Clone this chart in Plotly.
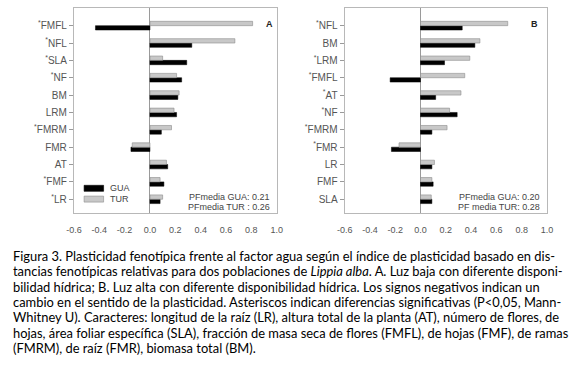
import plotly.graph_objects as go

# ---------------- data ----------------
cats_A = ["FMFL", "NFL", "SLA", "NF", "BM", "LRM", "FMRM", "FMR", "AT", "FMF", "LR"]
sig_A = [True, True, True, True, False, False, True, False, False, True, True]
gua_A = [-0.43, 0.33, 0.29, 0.25, 0.22, 0.21, 0.09, -0.15, 0.14, 0.11, 0.08]
tur_A = [0.81, 0.67, 0.10, 0.21, 0.23, 0.19, 0.17, -0.14, 0.13, 0.08, 0.10]

cats_B = ["NFL", "BM", "LRM", "FMFL", "AT", "NF", "FMRM", "FMR", "LR", "FMF", "SLA"]
sig_B = [True, False, True, True, True, True, True, True, False, False, False]
gua_B = [0.33, 0.43, 0.19, -0.24, 0.12, 0.29, 0.09, -0.23, 0.09, 0.10, 0.09]
tur_B = [0.69, 0.47, 0.39, 0.35, 0.32, 0.23, 0.21, -0.17, 0.11, 0.09, 0.085]

series_names = ["GUA", "TUR"]
x_ticks = [-0.6, -0.4, -0.2, 0.0, 0.2, 0.4, 0.6, 0.8, 1.0]
pf_A = ["PFmedia GUA: 0.21", "PFmedia TUR : 0.26"]
pf_B = ["PFmedia GUA: 0.20", "PF media TUR: 0.28"]

caption = [
    "Figura 3. Plasticidad fenotípica frente al factor agua según el índice de plasticidad basado en dis-",
    "tancias fenotípicas relativas para dos poblaciones de <i>Lippia alba</i>. A. Luz baja con diferente disponi-",
    "bilidad hídrica; B. Luz alta con diferente disponibilidad hídrica. Los signos negativos indican un",
    "cambio en el sentido de la plasticidad. Asteriscos indican diferencias significativas (P&lt;0,05, Mann-",
    "Whitney U). Caracteres: longitud de la raíz (LR), altura total de la planta (AT), número de flores, de",
    "hojas, área foliar específica (SLA), fracción de masa seca de flores (FMFL), de hojas (FMF), de ramas",
    "(FMRM), de raíz (FMR), biomasa total (BM).",
]

# ---------------- styling ----------------
W, H = 573, 366
BLACK = "#000000"
GREY = "#c8c8c8"
GREY_EDGE = "#8c8c8c"
AXCOL = "#555555"
FONT = "Liberation Sans, Arial, sans-serif"


def px_x(p):
    return p / W


def px_y(p):
    return 1 - p / H


def lab(c, s):
    return ("<sup>*</sup>" + c) if s else c


fig = go.Figure()

for (cats, sig, gua, tur, xa, ya) in [
    (cats_A, sig_A, gua_A, tur_A, "x", "y"),
    (cats_B, sig_B, gua_B, tur_B, "x2", "y2"),
]:
    fig.add_trace(go.Bar(
        y=cats, x=gua, orientation="h", name=series_names[0],
        showlegend=False, xaxis=xa, yaxis=ya,
        marker=dict(color=BLACK, line=dict(color=BLACK, width=0.5)),
    ))
    fig.add_trace(go.Bar(
        y=cats, x=tur, orientation="h", name=series_names[1],
        showlegend=False, xaxis=xa, yaxis=ya,
        marker=dict(color=GREY, line=dict(color=GREY_EDGE, width=0.6)),
    ))

x_common = dict(
    range=[-0.6005, 1.0005], tickmode="array", tickvals=x_ticks,
    ticktext=[f"{v:.1f}" for v in x_ticks],
    showgrid=False, zeroline=True, zerolinecolor="#9a9a9a", zerolinewidth=1,
    showline=True, linecolor="#b8b8b8", linewidth=1, mirror=True,
    ticks="outside", ticklen=8, tickcolor="rgba(0,0,0,0)", tickwidth=1,
    ticklabeloverflow="allow",
    tickfont=dict(family=FONT, size=9, color=AXCOL), fixedrange=True,
)
y_common = dict(
    type="category", categoryorder="array", range=[-0.81, 11.0],
    showgrid=False, showline=True, linecolor="#b8b8b8", linewidth=1, mirror=True,
    ticks="outside", ticklen=4, tickcolor="#9a9a9a",
    tickfont=dict(family=FONT, size=10, color=AXCOL), fixedrange=True,
)

yd = [px_y(213.3), px_y(8.3)]
fig.update_layout(
    width=W, height=H, margin=dict(l=0, r=0, t=0, b=0),
    paper_bgcolor="white", plot_bgcolor="white",
    barmode="group", bargap=0.5, bargroupgap=0,
    xaxis=dict(domain=[px_x(67.5), px_x(275.5)], anchor="y", **x_common),
    yaxis=dict(domain=yd, anchor="x",
               categoryarray=cats_A[::-1], tickvals=cats_A,
               ticktext=[lab(c, s) for c, s in zip(cats_A, sig_A)], **y_common),
    xaxis2=dict(domain=[px_x(345), px_x(552.5)], anchor="y2", **x_common),
    yaxis2=dict(domain=yd, anchor="x2",
                categoryarray=cats_B[::-1], tickvals=cats_B,
                ticktext=[lab(c, s) for c, s in zip(cats_B, sig_B)], **y_common),
    showlegend=False,
)

ann = []
shapes = []
# legend (panel A), drawn compactly like the reference
leg_fill = [BLACK, GREY]
leg_edge = [BLACK, GREY_EDGE]
for i, nm in enumerate(series_names):
    yc = 188.3 + 10.8 * i
    shapes.append(dict(type="rect", xref="paper", yref="paper",
                       x0=px_x(78), x1=px_x(98), y0=px_y(yc - 3), y1=px_y(yc + 3),
                       fillcolor=leg_fill[i], line=dict(color=leg_edge[i], width=0.6)))
    ann.append(dict(text=nm, x=px_x(102.5), y=px_y(yc), xref="paper", yref="paper",
                    xanchor="left", yanchor="middle", showarrow=False,
                    font=dict(family=FONT, size=9, color="#444")))
# panel letters
ann.append(dict(text="<b>A</b>", x=px_x(268), y=px_y(17), xref="paper", yref="paper",
                showarrow=False, font=dict(family=FONT, size=9, color="#222")))
ann.append(dict(text="<b>B</b>", x=px_x(545.5), y=px_y(17), xref="paper", yref="paper",
                showarrow=False, font=dict(family=FONT, size=9, color="#222")))
# PF media notes
for txts, xr in [(pf_A, 271), (pf_B, 547.5)]:
    for i, t in enumerate(txts):
        ann.append(dict(text=t, x=px_x(xr), y=px_y(197.3 + 10 * i), xref="paper", yref="paper",
                        xanchor="right", yanchor="middle", showarrow=False,
                        font=dict(family=FONT, size=9, color="#444")))
# caption
for i, line in enumerate(caption):
    ann.append(dict(text=line, x=px_x(3), y=px_y(256 + 15.3 * i), xref="paper", yref="paper",
                    xanchor="left", yanchor="middle", showarrow=False,
                    font=dict(family="Lato, sans-serif", size=12.9, color="#000")))

fig.update_layout(annotations=ann, shapes=shapes)
fig.write_html(
    "out.html",
    config={"displayModeBar": False, "staticPlot": True},
    post_script="document.body.style.margin='0';document.body.style.overflow='hidden';",
)
